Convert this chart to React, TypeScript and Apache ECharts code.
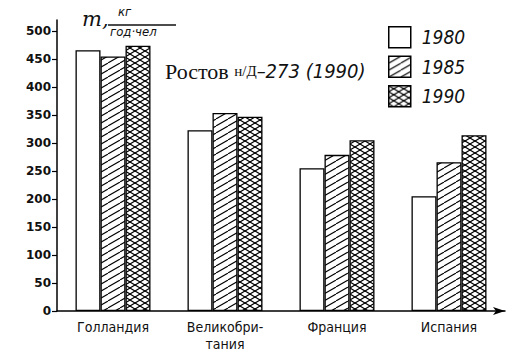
import React, { useEffect, useRef } from "react";
import * as echarts from "echarts";

const categories = ["Голландия", "Великобри-\nтания", "Франция", "Испания"];
const years = ["1980", "1985", "1990"];
const values1980 = [466, 323, 255, 205];
const values1985 = [455, 354, 279, 266];
const values1990 = [474, 347, 305, 314];
const yTicks = [0, 50, 100, 150, 200, 250, 300, 350, 400, 450, 500];

function makePattern(kind: "none" | "hatch" | "cross") {
  if (kind === "none") return "#ffffff";
  const W = kind === "hatch" ? 12 : 10;
  const H = kind === "hatch" ? 7 : 6;
  const c = document.createElement("canvas");
  c.width = W;
  c.height = H;
  const ctx = c.getContext("2d")!;
  ctx.fillStyle = "#ffffff";
  ctx.fillRect(0, 0, W, H);
  ctx.strokeStyle = "#000000";
  ctx.lineWidth = 1.1;
  for (const dx of [-W, 0, W]) {
    ctx.beginPath();
    ctx.moveTo(dx, H);
    ctx.lineTo(dx + W, 0);
    ctx.stroke();
    if (kind === "cross") {
      ctx.beginPath();
      ctx.moveTo(dx, 0);
      ctx.lineTo(dx + W, H);
      ctx.stroke();
    }
  }
  return { image: c, repeat: "repeat" as const, imageWidth: W, imageHeight: H };
}

export default function App() {
  const ref = useRef<HTMLDivElement>(null);
  useEffect(() => {
    if (!ref.current) return;
    const chart = echarts.init(ref.current, null, { renderer: "svg" });
    const fills = [makePattern("none"), makePattern("hatch"), makePattern("cross")];
    const seriesData = [values1980, values1985, values1990];
    chart.setOption({
      animation: false,
      backgroundColor: "#ffffff",
      grid: { left: 57, right: 10, top: 20, bottom: 45 },
      legend: {
        orient: "vertical",
        left: 383,
        top: 21,
        itemWidth: 22,
        itemHeight: 21,
        itemGap: 7,
        icon: "rect",
        data: years,
        itemStyle: { borderColor: "#000", borderWidth: 1.5 },
        textStyle: {
          fontFamily: "'DejaVu Sans Condensed', 'Liberation Sans Narrow', sans-serif",
          fontStyle: "italic",
          fontSize: 19,
          color: "#111",
          lineHeight: 21,
          padding: [0, 0, 0, 6],
        },
      },
      xAxis: {
        type: "category",
        data: categories,
        axisLine: {
          lineStyle: { color: "#000", width: 1.5 },
          symbol: ["none", "arrow"],
          symbolSize: [6, 12],
        },
        axisTick: { show: false },
        axisLabel: {
          margin: 7,
          fontFamily: "'DejaVu Sans Condensed', sans-serif",
          fontSize: 14,
          color: "#111",
          lineHeight: 17,
          interval: 0,
        },
      },
      yAxis: {
        type: "value",
        min: 0,
        max: 520,
        interval: 50,
        splitLine: { show: false },
        axisLine: { show: true, lineStyle: { color: "#000", width: 1.5 } },
        axisTick: {
          show: true,
          length: 5,
          customValues: yTicks,
          lineStyle: { color: "#000", width: 1.2 },
        },
        axisLabel: {
          customValues: yTicks,
          margin: 6,
          fontFamily: "'DejaVu Sans', sans-serif",
          fontWeight: "bold",
          fontSize: 12,
          color: "#111",
        },
      },
      series: years.map((y, i) => ({
        name: y,
        type: "bar",
        data: seriesData[i],
        barWidth: 25,
        barGap: "0%",
        itemStyle: { color: fills[i], borderColor: "#000", borderWidth: 1.3 },
      })),
      graphic: [
        {
          type: "text",
          left: 82,
          top: 8,
          style: {
            text: "m,",
            fontFamily: "'DejaVu Serif', serif",
            fontStyle: "italic",
            fontSize: 21,
            fill: "#111",
          },
        },
        {
          type: "text",
          left: 118,
          top: 5,
          style: {
            text: "кг",
            fontFamily: "'DejaVu Sans Condensed', sans-serif",
            fontStyle: "italic",
            fontSize: 13,
            fill: "#111",
          },
        },
        {
          type: "line",
          shape: { x1: 108, y1: 25, x2: 176, y2: 25 },
          style: { stroke: "#111", lineWidth: 1.3 },
        },
        {
          type: "text",
          left: 110,
          top: 25,
          style: {
            text: "год·чел",
            fontFamily: "'DejaVu Sans Condensed', sans-serif",
            fontStyle: "italic",
            fontSize: 13,
            fill: "#111",
          },
        },
        {
          type: "text",
          left: 165,
          top: 60,
          style: {
            text: "{a|Ростов }{b|н/Д}{c|–273 (1990)}",
            rich: {
              a: { fontFamily: "'Liberation Serif', serif", fontSize: 22, fill: "#111" },
              b: { fontFamily: "'Liberation Serif', serif", fontSize: 15, fill: "#111" },
              c: {
                fontFamily: "'DejaVu Sans Condensed', sans-serif",
                fontStyle: "italic",
                fontSize: 20,
                fill: "#111",
              },
            },
          },
        },
      ],
    });
    return () => chart.dispose();
  }, []);
  return <div ref={ref} style={{ width: 515, height: 356, position: "absolute", left: 0, top: 0 }} />;
}
